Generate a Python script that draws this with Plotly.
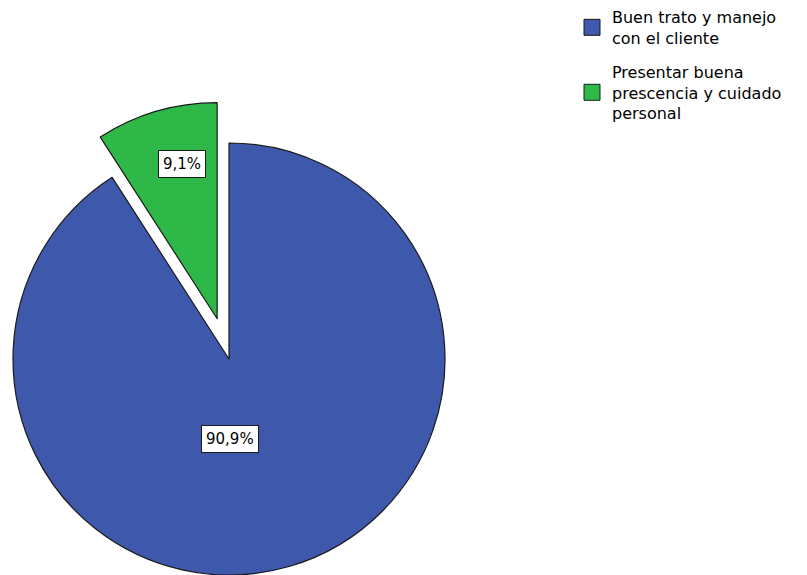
import math
import plotly.graph_objects as go

# Data
categories = ["Buen trato y manejo<br>con el cliente",
              "Presentar buena<br>prescencia y cuidado<br>personal"]
percentages = [90.9, 9.1]
pct_labels = ["90,9%", "9,1%"]

BLUE = "#3E58AC"
GREEN = "#2EB848"
EDGE = "#1a1a1a"
CLEAR = "rgba(0,0,0,0)"
COLORS = [BLUE, GREEN]

W, H = 807, 575
R = 216            # pie radius, px
CX, CY = 229, 359  # pie centre, px
EXPLODE = 42       # offset of the exploded slice, px


def domain_for(cx, cy, r):
    return dict(x=[(cx - r) / W, (cx + r) / W],
                y=[1 - (cy + r) / H, 1 - (cy - r) / H])


# mid angle of the exploded (second) slice, clockwise from 12 o'clock
total = sum(percentages)
mid = 2 * math.pi * (percentages[0] + percentages[1] / 2) / total
gx = CX + EXPLODE * math.sin(mid)
gy = CY - EXPLODE * math.cos(mid)

common = dict(labels=categories, values=percentages, sort=False,
              direction="clockwise", rotation=0,
              textinfo="none", hoverinfo="label+percent", showlegend=False)

fig = go.Figure()
# main slice
fig.add_trace(go.Pie(domain=domain_for(CX, CY, R),
                     marker=dict(colors=[BLUE, CLEAR],
                                 line=dict(color=EDGE, width=[1.2, 0])),
                     **common))
# exploded slice
fig.add_trace(go.Pie(domain=domain_for(gx, gy, R),
                     marker=dict(colors=[CLEAR, GREEN],
                                 line=dict(color=EDGE, width=[0, 1.2])),
                     **common))

# legend entries
for i, (name, col) in enumerate(zip(categories, COLORS)):
    fig.add_trace(go.Scatter(x=[None], y=[None], mode="markers", name=name,
                             legendgroup=f"g{i}",
                             marker=dict(symbol="square", size=16, color=col,
                                         line=dict(color=EDGE, width=1)),
                             hoverinfo="skip"))

# value labels, boxed
label_pos = [(230, 439), (182, 164)]
for txt, (px, py) in zip(pct_labels, label_pos):
    fig.add_annotation(x=px / W, y=1 - py / H, xref="paper", yref="paper",
                       xanchor="center", yanchor="middle",
                       text=txt, showarrow=False,
                       font=dict(family="DejaVu Sans", size=15, color="black"),
                       bgcolor="white", bordercolor=EDGE, borderwidth=1, borderpad=4)

fig.update_layout(
    width=W, height=H, autosize=False,
    margin=dict(l=0, r=0, t=0, b=0, pad=0),
    paper_bgcolor="white", plot_bgcolor="white",
    xaxis=dict(visible=False), yaxis=dict(visible=False),
    legend=dict(x=572 / W, y=1, xanchor="left", yanchor="top",
                font=dict(family="DejaVu Sans", size=16, color="black"),
                bgcolor="rgba(0,0,0,0)", tracegroupgap=10, itemsizing="trace"),
    showlegend=True,
)

fig.write_html("out.html")
